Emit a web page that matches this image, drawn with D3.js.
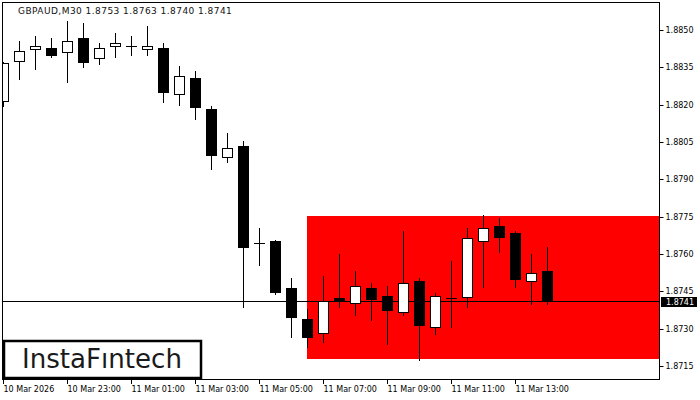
<!DOCTYPE html>
<html>
<head>
<meta charset="utf-8">
<script src="https://cdn.jsdelivr.net/npm/d3@7"></script>
<style>
  html, body { margin: 0; padding: 0; background: #fff; }
  svg { display: block; }
  text { font-family: "DejaVu Sans", sans-serif; }
</style>
</head>
<body>
<svg id="chart" width="700" height="400"></svg>
<script>
// GBPAUD M30 bars, oldest first
const opens  = [1.88215, 1.88374, 1.88425, 1.88428, 1.88413, 1.88468, 1.88386, 1.88435, 1.88436, 1.88425,
                1.88428, 1.88244, 1.88307, 1.88183, 1.87991, 1.88034, 1.87643, 1.87652, 1.87463, 1.87339,
                1.87281, 1.87423, 1.87402, 1.87463, 1.87431, 1.87368, 1.87491, 1.87308, 1.87422, 1.87428,
                1.87651, 1.87712, 1.87683, 1.87490, 1.8753];
const highs  = [1.88371, 1.88456, 1.88477, 1.88468, 1.88536, 1.88528, 1.88448, 1.88488, 1.88476, 1.88517,
                1.88449, 1.88357, 1.88336, 1.88195, 1.88086, 1.88054, 1.87704, 1.87656, 1.87504, 1.87379,
                1.87512, 1.87600, 1.87532, 1.87483, 1.87471, 1.87692, 1.87504, 1.87443, 1.87572, 1.87704,
                1.87757, 1.87745, 1.87692, 1.87600, 1.8763];
const lows   = [1.88195, 1.88304, 1.88345, 1.88393, 1.88292, 1.88353, 1.88365, 1.88393, 1.88400, 1.88401,
                1.88211, 1.88200, 1.88144, 1.87942, 1.87970, 1.87388, 1.87557, 1.87439, 1.87268, 1.87228,
                1.87248, 1.87388, 1.87356, 1.87336, 1.87240, 1.87355, 1.87176, 1.87280, 1.87308, 1.87388,
                1.87469, 1.87609, 1.87469, 1.87400, 1.8740];
const closes = [1.88366, 1.88416, 1.88436, 1.88401, 1.88455, 1.88371, 1.88426, 1.88448, 1.88436, 1.88436,
                1.88252, 1.88314, 1.88191, 1.87998, 1.88025, 1.87629, 1.87643, 1.87447, 1.87348, 1.87268,
                1.87410, 1.87410, 1.87471, 1.87420, 1.87376, 1.87482, 1.87316, 1.87430, 1.87422, 1.87663,
                1.87703, 1.87669, 1.87501, 1.87522, 1.8741];

const timeTickIndex = [0, 4, 8, 12, 16, 20, 24, 28, 32];
const timeTickLabels = ["10 Mar 2026", "10 Mar 23:00", "11 Mar 01:00", "11 Mar 03:00", "11 Mar 05:00",
                        "11 Mar 07:00", "11 Mar 09:00", "11 Mar 11:00", "11 Mar 13:00"];
const priceTicks = [1.8850, 1.8835, 1.8820, 1.8805, 1.8790, 1.8775, 1.8760, 1.8745, 1.8730, 1.8715];

// pattern zone (rectangle) from bar 19 to the right edge
const zoneStart = 19;
const zoneHigh = 1.87753;
const zoneLow = 1.87178;
const bid = 1.8741;

const svg = d3.select("#chart");
const plot = {left: 3, right: 659, top: 2, bottom: 379};

const x = d3.scaleLinear().domain([0, 40]).range([3, 643]);
const y = d3.scaleLinear().domain([1.8715, 1.8850]).range([366, 30]);

const bars = opens.map((o, i) => ({i: i, o: o, h: highs[i], l: lows[i], c: closes[i]}));

svg.append("defs").append("clipPath").attr("id", "plotClip")
    .append("rect")
    .attr("x", plot.left).attr("y", plot.top)
    .attr("width", plot.right - plot.left).attr("height", plot.bottom - plot.top);

const g = svg.append("g").attr("clip-path", "url(#plotClip)");

// zone
g.append("rect")
    .attr("x", Math.round(x(zoneStart)))
    .attr("y", Math.round(y(zoneHigh)))
    .attr("width", plot.right - Math.round(x(zoneStart)))
    .attr("height", Math.round(y(zoneLow)) - Math.round(y(zoneHigh)))
    .attr("fill", "#ff0000");

// bid line (behind bars)
g.append("line")
    .attr("x1", plot.left).attr("x2", plot.right)
    .attr("y1", Math.round(y(bid)) + 0.5).attr("y2", Math.round(y(bid)) + 0.5)
    .attr("stroke", "#000").attr("stroke-width", 1);

// candles
const candle = g.selectAll(".candle").data(bars).enter()
    .append("g").attr("class", "candle");

candle.append("line")
    .attr("x1", d => x(d.i) + 0.5).attr("x2", d => x(d.i) + 0.5)
    .attr("y1", d => Math.round(y(d.h))).attr("y2", d => Math.round(y(d.l)) + 1)
    .attr("stroke", "#000").attr("stroke-width", 1);

candle.each(function(d) {
    const sel = d3.select(this);
    const top = Math.round(y(Math.max(d.o, d.c)));
    const bot = Math.round(y(Math.min(d.o, d.c)));
    const cx = x(d.i);
    if (bot - top < 1) {
        sel.append("line")
            .attr("x1", cx - 5).attr("x2", cx + 6)
            .attr("y1", top + 0.5).attr("y2", top + 0.5)
            .attr("stroke", "#000");
    } else if (d.c > d.o) {
        sel.append("rect")
            .attr("x", cx - 4.5).attr("y", top + 0.5)
            .attr("width", 10).attr("height", bot - top)
            .attr("fill", "#fff").attr("stroke", "#000").attr("stroke-width", 1);
    } else {
        sel.append("rect")
            .attr("x", cx - 5).attr("y", top)
            .attr("width", 11).attr("height", bot - top + 1)
            .attr("fill", "#000");
    }
});

// frame
svg.append("rect")
    .attr("x", plot.left - 0.5).attr("y", plot.top + 0.5)
    .attr("width", plot.right - plot.left + 1).attr("height", plot.bottom - plot.top)
    .attr("fill", "none").attr("stroke", "#000").attr("stroke-width", 1);

// price axis
const yAxis = svg.append("g").attr("transform", `translate(${plot.right + 0.5},0)`);
priceTicks.forEach(p => {
    const py = Math.round(y(p)) + 0.5;
    yAxis.append("line").attr("x1", 0).attr("x2", 4).attr("y1", py).attr("y2", py).attr("stroke", "#000");
    yAxis.append("text").attr("x", 6).attr("y", py).attr("dy", "0.35em")
        .attr("font-size", 8).attr("fill", "#000").text(d3.format(".4f")(p));
});

// bid label
const by = Math.round(y(bid));
svg.append("rect").attr("x", 661).attr("y", by - 4).attr("width", 36).attr("height", 10).attr("fill", "#000");
svg.append("text").attr("x", 666).attr("y", by + 1).attr("dy", "0.35em")
    .attr("font-size", 8).attr("fill", "#fff").text(d3.format(".4f")(bid));

// time axis
const xAxis = svg.append("g").attr("transform", `translate(0,${plot.bottom})`);
timeTickIndex.forEach((idx, k) => {
    const tx = x(idx) + 0.5;
    xAxis.append("line").attr("x1", tx).attr("x2", tx).attr("y1", 0).attr("y2", 5).attr("stroke", "#000");
    xAxis.append("text").attr("x", tx).attr("y", 13)
        .attr("font-size", 8).attr("fill", "#000").text(timeTickLabels[k]);
});

// title
svg.append("text").attr("x", 18).attr("y", 14)
    .attr("font-size", 9).attr("letter-spacing", 0.45).attr("fill", "#111")
    .text("GBPAUD,M30  1.8753 1.8763 1.8740 1.8741");

// logo
svg.append("rect").attr("x", 4).attr("y", 341).attr("width", 197).attr("height", 37)
    .attr("fill", "#fff").attr("stroke", "#000").attr("stroke-width", 2.5);
svg.append("text").attr("x", 22).attr("y", 368)
    .attr("font-family", "Inter, Lato, sans-serif").attr("font-size", 26).attr("font-weight", 500)
    .attr("fill", "#1a1a1a").attr("textLength", 160).attr("lengthAdjust", "spacingAndGlyphs")
    .text("InstaFıntech");
</script>
</body>
</html>
